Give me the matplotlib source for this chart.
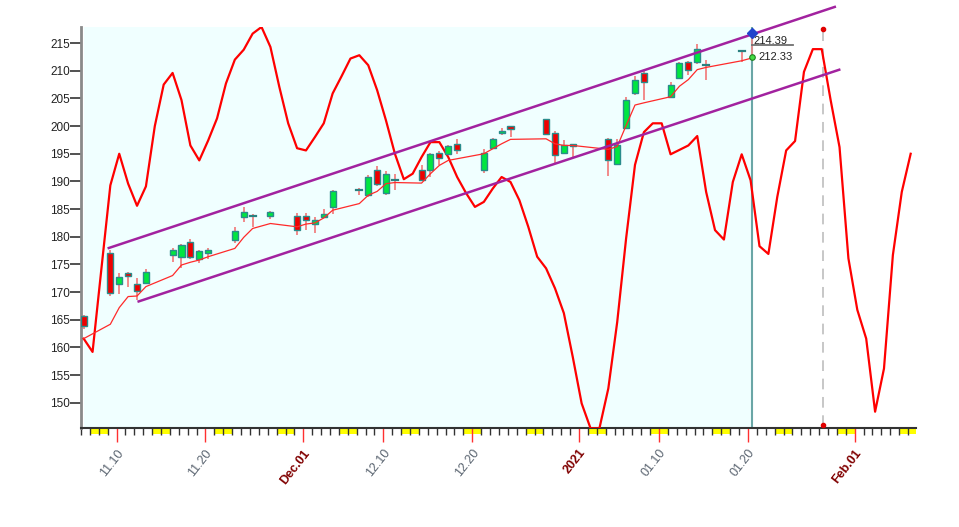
import matplotlib
matplotlib.use('Agg')
import matplotlib.pyplot as plt
from matplotlib.patches import Rectangle
import datetime as dt

plt.rcParams['font.family'] = ['Liberation Sans', 'DejaVu Sans']

START = dt.date(2020, 11, 6)

# ---- candles (trading days) ----
candle_dates = ['2020-11-06', '2020-11-09', '2020-11-10', '2020-11-11', '2020-11-12', '2020-11-13',
                '2020-11-16', '2020-11-17', '2020-11-18', '2020-11-19', '2020-11-20',
                '2020-11-23', '2020-11-24', '2020-11-25', '2020-11-27',
                '2020-11-30', '2020-12-01', '2020-12-02', '2020-12-03', '2020-12-04',
                '2020-12-07', '2020-12-08', '2020-12-09', '2020-12-10', '2020-12-11',
                '2020-12-14', '2020-12-15', '2020-12-16', '2020-12-17', '2020-12-18',
                '2020-12-21', '2020-12-22', '2020-12-23', '2020-12-24',
                '2020-12-28', '2020-12-29', '2020-12-30', '2020-12-31',
                '2021-01-04', '2021-01-05', '2021-01-06', '2021-01-07', '2021-01-08',
                '2021-01-11', '2021-01-12', '2021-01-13', '2021-01-14', '2021-01-15',
                '2021-01-19']
opens = [165.7, 177.0, 171.4, 173.5, 171.4, 171.6,
         176.7, 176.3, 179.0, 175.9, 177.0,
         179.4, 183.5, 183.7, 183.8,
         183.8, 183.7, 182.3, 183.6, 185.3,
         188.5, 187.5, 192.0, 187.9, 190.2,
         192.0, 192.0, 195.2, 194.9, 196.7,
         192.1, 196.1, 198.8, 200.0,
         201.2, 198.8, 195.1, 196.4,
         197.6, 193.2, 199.7, 206.0, 209.5,
         205.3, 208.7, 211.6, 211.5, 211.0,
         213.6]
highs = [165.9, 177.6, 173.4, 173.7, 172.5, 174.2,
         177.9, 178.7, 179.6, 177.7, 177.9,
         181.8, 185.4, 184.2, 184.6,
         184.3, 184.3, 183.6, 185.1, 188.5,
         188.8, 191.2, 192.8, 191.9, 191.4,
         193.0, 195.1, 195.5, 196.6, 197.7,
         195.8, 197.9, 199.7, 200.1,
         201.3, 199.2, 197.4, 196.8,
         197.9, 197.7, 205.3, 209.0, 210.0,
         208.0, 211.6, 211.8, 214.9, 211.9,
         213.6]
lows = [163.3, 169.3, 169.6, 171.0, 168.6, 171.4,
        175.5, 174.3, 175.9, 175.2, 175.9,
        178.8, 182.6, 181.8, 183.2,
        180.3, 181.2, 180.7, 183.4, 184.2,
        187.5, 187.1, 189.2, 187.5, 188.4,
        190.0, 190.8, 193.0, 194.7, 195.0,
        191.6, 195.9, 198.3, 198.0,
        198.4, 193.4, 195.0, 194.4,
        191.0, 193.0, 199.5, 205.7, 204.8,
        205.2, 208.5, 209.2, 211.3, 208.3,
        211.6]
closes = [163.9, 169.8, 172.8, 172.9, 170.2, 173.6,
          177.7, 178.5, 176.3, 177.5, 177.6,
          181.0, 184.4, 183.7, 184.5,
          181.3, 183.0, 183.0, 184.1, 188.3,
          188.5, 190.8, 189.6, 191.3, 190.2,
          190.2, 194.9, 194.2, 196.4, 195.6,
          195.2, 197.6, 199.2, 199.4,
          198.5, 194.7, 196.5, 196.7,
          193.8, 196.5, 204.7, 208.4, 208.0,
          207.5, 211.4, 210.1, 214.0, 211.0,
          213.6]

# ---- moving average (thin red line) ----
ma_dates = candle_dates + ['2021-01-20']
ma_values = [161.6, 164.2, 167.2, 169.2, 169.3, 171.0,
             173.0, 174.9, 175.4, 175.8, 176.4,
             177.9, 179.9, 181.5, 182.4,
             181.8, 182.3, 182.5, 183.4, 184.8,
             186.0, 187.5, 188.2, 189.6, 189.8,
             189.7, 191.4, 192.9, 193.8, 194.1,
             195.0, 195.9, 196.8, 197.6,
             197.7, 196.8, 196.5, 196.5,
             195.8, 196.3, 200.1, 203.8, 204.2,
             205.3, 207.2, 208.4, 210.2, 210.6,
             211.8, 212.33]

# ---- cycle / oscillator line (daily, from 2020-11-06) ----
osc_values = [161.6, 159.2, 174.3, 189.3, 195.0, 189.6, 185.6, 189.1, 200.0, 207.5,
              209.6, 204.7, 196.5, 193.8, 197.4, 201.4, 207.7, 212.0, 213.8, 216.7,
              217.9, 214.3, 207.1, 200.5, 196.0, 195.6, 198.0, 200.5, 205.9, 209.0,
              212.2, 212.8, 211.0, 206.5, 201.0, 195.0, 190.4, 191.4, 194.4, 197.1,
              197.1, 194.4, 190.8, 187.9, 185.4, 186.3, 188.7, 190.8, 189.9, 186.6,
              181.8, 176.4, 174.3, 170.7, 166.2, 158.3, 149.9, 145.4, 145.4, 152.6,
              164.6, 179.7, 193.0, 198.9, 200.5, 200.5, 194.9, 195.7, 196.5, 198.2,
              188.1, 181.2, 179.5, 189.9, 194.9, 190.2, 178.3, 176.9, 187.2, 195.6,
              197.3, 209.8, 213.9, 213.9, 204.7, 196.2, 176.1, 166.8, 161.6, 148.4,
              156.2, 176.7, 188.1, 195.0]

# ---- channel lines (start/end as day offsets, values) ----
upper_x = [2.69, 84.6]
upper_y = [177.9, 221.6]
lower_x = [6.05, 85.1]
lower_y = [168.25, 210.25]

# ---- axis labels ----
label_dates = ['2020-11-10', '2020-11-20', '2020-12-01', '2020-12-10', '2020-12-20',
               '2021-01-01', '2021-01-10', '2021-01-20', '2021-02-01']
label_texts = ['11.10', '11.20', 'Dec.01', '12.10', '12.20', '2021', '01.10', '01.20', 'Feb.01']
label_special = [False, False, True, False, False, True, False, False, True]

y_ticks = [150, 155, 160, 165, 170, 175, 180, 185, 190, 195, 200, 205, 210, 215]

last_high_label = '214.39'
last_ma_label = '212.33'


def day(s):
    return (dt.date.fromisoformat(s) - START).days


fig = plt.figure(figsize=(9.59, 5.27), dpi=100)
ax = fig.add_axes([81 / 959, (527 - 428.3) / 527, 835 / 959, 401.3 / 527])
ax.set_facecolor('white')
XMAX = 93.6
ax.set_xlim(0, XMAX)
ax.set_ylim(145.4, 217.9)

today = 75.2
ax.axvspan(0, today, color='#f0ffff', zorder=0, lw=0)
ax.axvline(today, color='#6aa6a6', lw=1.5, zorder=2)

# dashed projection line
ax.axvline(83.1, ymin=0.005, ymax=0.99, color='#b8b8b8', lw=1.1, ls=(0, (7, 5)), zorder=1)
ax.plot([83.1, 83.1], [217.5, 146.0], ls='none', marker='o', ms=3, color='#e00000', zorder=7,
        clip_on=False)

# oscillator
osc_x = list(range(len(osc_values)))
ax.plot(osc_x, osc_values, color='#ff0000', lw=1.6, zorder=3)

# candles
cx = [day(s) for s in candle_dates]
bw = 0.68
for x, o, h, l, c in zip(cx, opens, highs, lows, closes):
    ax.plot([x, x], [l, h], color='#f28a8a', lw=1.4, zorder=4, solid_capstyle='butt')
    lo, hi = min(o, c), max(o, c)
    if hi - lo < 0.25:
        ax.plot([x - bw / 2, x + bw / 2], [o, o], color='#2a8080', lw=1.6, zorder=5)
    else:
        fc = '#00e640' if c > o else '#f00000'
        ax.add_patch(Rectangle((x - bw / 2, lo), bw, hi - lo, facecolor=fc,
                               edgecolor='#2a8c8c', lw=1.0, zorder=5))

# last (forming) bar wick
ax.plot([today, today], [212.7, 216.7], color='#f28a8a', lw=1.2, zorder=4)

# moving average
ax.plot([day(s) + (0.2 if s == '2021-01-20' else 0) for s in ma_dates], ma_values,
        color='#ff2a2a', lw=0.9, zorder=6)

# channel
ax.plot(upper_x, upper_y, color='#a2229f', lw=1.8, zorder=7, clip_on=False, solid_capstyle='butt')
ax.plot(lower_x, lower_y, color='#a2229f', lw=1.8, zorder=7, clip_on=False, solid_capstyle='butt')

# markers at today
ax.plot([today], [216.9], marker='D', ms=5, color='#2244cc', zorder=8, clip_on=False)
ax.plot([today], [212.45], marker='o', ms=4, mfc='#44dd44', mec='#208020', mew=0.8, zorder=8)
ax.plot([today, 79.8], [214.6, 214.6], color='#707070', lw=1.3, zorder=8)
ax.text(today + 0.15, 215.45, last_high_label, fontsize=8, color='#222222', va='center', ha='left',
        zorder=9)
ax.text(today + 0.7, 212.5, last_ma_label, fontsize=8, color='#222222', va='center', ha='left',
        zorder=9)

# y axis
ax.set_yticks(y_ticks)
ax.set_yticklabels([str(v) for v in y_ticks])
ax.tick_params(axis='y', direction='out', length=8, width=1.2, color='#333333',
               labelsize=8.5, labelcolor='#222222', pad=0)

# x axis ticks
tick_pos = [day(s) - 0.3 for s in label_dates]
ax.set_xticks(tick_pos)
ax.set_xticks([d - 0.3 for d in range(0, 95) if d - 0.3 <= XMAX], minor=True)
ax.tick_params(axis='x', which='major', direction='out', length=10, width=1, color='#ff3030',
               labelbottom=False)
ax.tick_params(axis='x', which='minor', direction='out', length=5, width=1, color='#333333')

for sp in ['top', 'right']:
    ax.spines[sp].set_visible(False)
ax.spines['left'].set_color('#8a8a8a')
ax.spines['left'].set_linewidth(2)
ax.spines['bottom'].set_color('#333333')
ax.spines['bottom'].set_linewidth(1.5)

# weekend markers
xt = ax.get_xaxis_transform()
for d in range(0, 95):
    wd = (START + dt.timedelta(days=d)).weekday()
    if wd >= 5:
        x0 = d - 0.3
        w = min(1.0, XMAX - x0)
        if w > 0:
            ax.add_patch(Rectangle((x0, -0.015), w, 0.015, transform=xt, facecolor='#ffff00',
                                   edgecolor='none', clip_on=False, zorder=0.5))

# rotated date labels
for s, t, sp in zip(label_dates, label_texts, label_special):
    x = day(s) - 0.3 + 0.5
    ax.text(x, -0.056, t, transform=xt, rotation=52, rotation_mode='anchor',
            ha='right', va='center', fontsize=9,
            color='#800000' if sp else '#5a6470',
            fontweight='bold' if sp else 'normal', clip_on=False)

fig.savefig('out.png', dpi=100)
